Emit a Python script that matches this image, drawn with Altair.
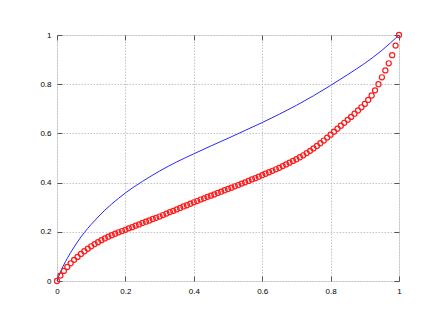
import altair as alt
import pandas as pd

# Blue curve (smooth line)
blue_x = [0.0, 0.01, 0.02, 0.03, 0.04, 0.05, 0.06, 0.07, 0.08, 0.09, 0.10, 0.12, 0.14,
          0.16, 0.18, 0.20, 0.25, 0.30, 0.35, 0.40, 0.45, 0.50, 0.55, 0.60, 0.65, 0.70,
          0.75, 0.80, 0.85, 0.90, 0.95, 1.00]
blue_y = [0.0, 0.036, 0.066, 0.092, 0.116, 0.138, 0.159, 0.179, 0.197, 0.214, 0.230, 0.260, 0.288,
          0.313, 0.336, 0.358, 0.405, 0.447, 0.484, 0.517, 0.549, 0.580, 0.612, 0.644, 0.678, 0.714,
          0.753, 0.795, 0.839, 0.885, 0.9375, 1.000]

# Red curve (open circles, sampled every 0.01)
red_x = [round(i * 0.01, 2) for i in range(101)]
red_y = [0.000, 0.022, 0.041, 0.057, 0.072, 0.086, 0.098, 0.110, 0.121, 0.131,
         0.141, 0.150, 0.158, 0.166, 0.173, 0.180, 0.186, 0.192, 0.198, 0.203,
         0.208, 0.214, 0.219, 0.225, 0.230, 0.236, 0.241, 0.246, 0.252, 0.257,
         0.262, 0.268, 0.274, 0.280, 0.285, 0.291, 0.297, 0.303, 0.308, 0.314,
         0.320, 0.325, 0.331, 0.336, 0.342, 0.347, 0.352, 0.358, 0.363, 0.369,
         0.374, 0.379, 0.385, 0.390, 0.396, 0.401, 0.407, 0.413, 0.418, 0.424,
         0.430, 0.436, 0.442, 0.448, 0.454, 0.460, 0.467, 0.474, 0.481, 0.488,
         0.495, 0.503, 0.511, 0.520, 0.529, 0.539, 0.549, 0.560, 0.571, 0.583,
         0.595, 0.607, 0.619, 0.631, 0.643, 0.655, 0.667, 0.680, 0.693, 0.706,
         0.720, 0.736, 0.754, 0.775, 0.800, 0.828, 0.856, 0.885, 0.918, 0.957,
         1.000]

tick_values = [0, 0.2, 0.4, 0.6, 0.8, 1]

blue_df = pd.DataFrame({"x": blue_x, "y": blue_y})
red_df = pd.DataFrame({"x": red_x, "y": red_y})

xscale = alt.Scale(domain=[0, 1], nice=False, zero=False)
yscale = alt.Scale(domain=[0, 1], nice=False, zero=False)

FONT = "Liberation Sans"

def label_axis(orient):
    return alt.Axis(orient=orient, values=tick_values, title=None, grid=True,
                    gridColor="#c4c4c4", gridDash=[1.5, 1.5], gridWidth=1,
                    ticks=False, domain=False, labelFont=FONT, labelFontSize=8,
                    labelColor="#000000", labelPadding=6, labelFlush=False,
                    labelExpr="datum.value == 0 ? '0' : datum.value == 1 ? '1' : format(datum.value, '.1f')")

def tick_axis(orient):
    return alt.Axis(orient=orient, values=tick_values, title=None, grid=False,
                    labels=False, domain=False, ticks=True, tickSize=5,
                    tickColor="#555555", tickWidth=1, offset=-5)

blue = alt.Chart(blue_df).mark_line(color="#2828ff", strokeWidth=1, interpolate="monotone").encode(
    x=alt.X("x:Q", scale=xscale, axis=label_axis("bottom")),
    y=alt.Y("y:Q", scale=yscale, axis=label_axis("left")),
)

red = alt.Chart(red_df).mark_point(shape="circle", filled=False, color="#ff1a1a",
                                   size=26, strokeWidth=1.2, opacity=1).encode(
    x=alt.X("x:Q", scale=xscale, axis=tick_axis("bottom")),
    y=alt.Y("y:Q", scale=yscale, axis=tick_axis("left")),
)

mirror = alt.Chart(blue_df).mark_line(opacity=0).encode(
    x=alt.X("x:Q", scale=xscale, axis=tick_axis("top")),
    y=alt.Y("y:Q", scale=yscale, axis=tick_axis("right")),
)

chart = alt.layer(blue, red, mirror).resolve_axis(
    x="independent", y="independent"
).properties(
    width=342, height=246,
    autosize=alt.AutoSizeParams(type="none"),
    padding={"left": 49, "top": 27, "right": 10, "bottom": 30},
).configure_view(
    stroke="#000000", strokeWidth=1
).configure(background="#ffffff")

chart.save("out.html", embed_options={"renderer": "svg", "actions": False})
